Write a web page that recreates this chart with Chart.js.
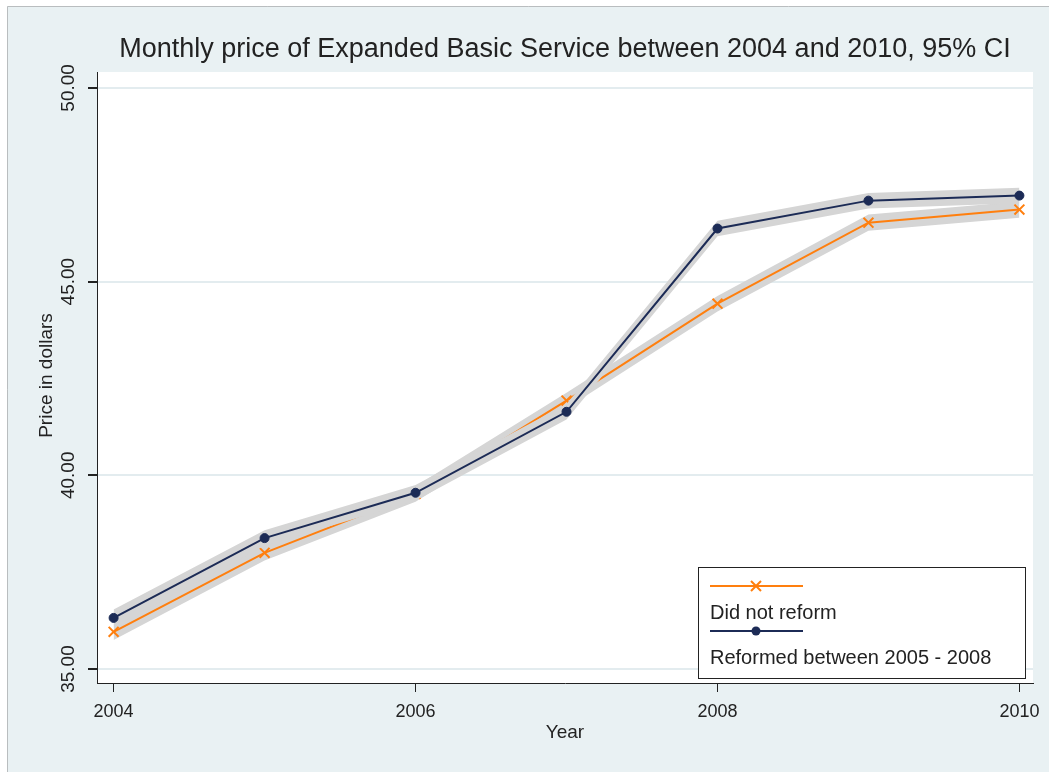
<!DOCTYPE html>
<html>
<head>
<meta charset="utf-8">
<script src="https://cdn.jsdelivr.net/npm/chart.js@4/dist/chart.umd.min.js"></script>
<style>
  html, body { margin: 0; padding: 0; background: #fff; }
  #wrap { width: 1049px; height: 772px; }
</style>
</head>
<body>
<div id="wrap"><canvas id="priceChart"></canvas></div>
<script>
/* ===== Data ===== */
const years = [2004, 2005, 2006, 2007, 2008, 2009, 2010];
const notReformed = [35.96, 38.00, 39.52, 41.93, 44.43, 46.52, 46.86];
const notReformedLow = [35.75, 37.80, 39.32, 41.73, 44.23, 46.31, 46.65];
const notReformedHigh = [36.17, 38.20, 39.72, 42.13, 44.63, 46.73, 47.07];
const reformed = [36.32, 38.38, 39.55, 41.64, 46.37, 47.09, 47.22];
const reformedLow = [36.10, 38.18, 39.35, 41.44, 46.17, 46.89, 47.02];
const reformedHigh = [36.54, 38.58, 39.75, 41.84, 46.57, 47.29, 47.42];
const yTicks = [35, 40, 45, 50];
const xTicks = [2004, 2006, 2008, 2010];
const legendLabels = ['Did not reform', 'Reformed between 2005 - 2008'];
const titleText = 'Monthly price of Expanded Basic Service between 2004 and 2010, 95% CI';

/* ===== Style ===== */
const orange = '#ff7f0e';
const navy = '#1c2b56';
const band = '#d5d5d5';
const bg = '#e9f1f3';
const gridColor = '#e3ecef';
const ink = '#222222';
const font = "'Liberation Sans', Arial, sans-serif";

const pts = (vals) => years.map((yr, i) => ({ x: yr, y: vals[i] }));

function bound(vals, fill, order) {
  return {
    data: pts(vals),
    borderWidth: 0,
    borderColor: 'transparent',
    backgroundColor: band,
    pointRadius: 0,
    fill,
    order
  };
}

function drawCross(ctx, x, y, r) {
  ctx.beginPath();
  ctx.moveTo(x - r, y - r); ctx.lineTo(x + r, y + r);
  ctx.moveTo(x - r, y + r); ctx.lineTo(x + r, y - r);
  ctx.stroke();
}

/* ===== Background / frame ===== */
const framePlugin = {
  id: 'frame',
  beforeDraw(chart) {
    const { ctx, width, height, chartArea: a } = chart;
    ctx.save();
    ctx.fillStyle = '#fff';
    ctx.fillRect(0, 0, width, height);
    ctx.fillStyle = bg;
    ctx.fillRect(7, 6, width - 7, height - 6);
    ctx.strokeStyle = '#b9bdbf';
    ctx.lineWidth = 1;
    ctx.beginPath();
    ctx.moveTo(7.5, height); ctx.lineTo(7.5, 6.5); ctx.lineTo(width, 6.5);
    ctx.stroke();
    ctx.fillStyle = '#fff';
    ctx.fillRect(a.left, a.top, a.right - a.left, a.bottom - a.top);
    ctx.restore();
  }
};

/* ===== Texts and legend ===== */
const textPlugin = {
  id: 'texts',
  afterDraw(chart) {
    const { ctx, chartArea: a, scales } = chart;
    const cx = (a.left + a.right) / 2;
    ctx.save();
    ctx.fillStyle = ink;
    ctx.textBaseline = 'middle';
    ctx.textAlign = 'center';

    // title
    ctx.font = `27px ${font}`;
    ctx.fillText(titleText, cx, 50);

    // x tick labels
    ctx.font = `18px ${font}`;
    scales.x.ticks.forEach(t => {
      ctx.fillText(String(t.value), scales.x.getPixelForValue(t.value), a.bottom + 29);
    });

    // y tick labels, rotated
    ctx.font = `19px ${font}`;
    scales.y.ticks.forEach(t => {
      ctx.save();
      ctx.translate(a.left - 28, scales.y.getPixelForValue(t.value));
      ctx.rotate(-Math.PI / 2);
      ctx.fillText(t.value.toFixed(2), 0, 0);
      ctx.restore();
    });

    // axis titles
    ctx.font = `19px ${font}`;
    ctx.fillText('Year', cx, a.bottom + 50);
    ctx.save();
    ctx.translate(a.left - 50, (a.top + a.bottom) / 2 - 2);
    ctx.rotate(-Math.PI / 2);
    ctx.fillText('Price in dollars', 0, 0);
    ctx.restore();

    // legend box
    const lx = a.right - 335, ly = a.bottom - 116;
    ctx.fillStyle = '#fff';
    ctx.fillRect(lx + 0.5, ly + 0.5, 327, 111);
    ctx.strokeStyle = ink;
    ctx.lineWidth = 1;
    ctx.strokeRect(lx + 0.5, ly + 0.5, 327, 111);

    ctx.lineWidth = 2;
    ctx.strokeStyle = orange;
    ctx.beginPath();
    ctx.moveTo(lx + 12, ly + 19); ctx.lineTo(lx + 105, ly + 19);
    ctx.stroke();
    drawCross(ctx, lx + 58, ly + 19, 5);

    ctx.strokeStyle = navy;
    ctx.beginPath();
    ctx.moveTo(lx + 12, ly + 64); ctx.lineTo(lx + 105, ly + 64);
    ctx.stroke();
    ctx.fillStyle = navy;
    ctx.beginPath();
    ctx.arc(lx + 58, ly + 64, 4.5, 0, Math.PI * 2);
    ctx.fill();

    ctx.fillStyle = ink;
    ctx.textAlign = 'left';
    ctx.font = `20px ${font}`;
    ctx.fillText(legendLabels[0], lx + 12, ly + 46);
    ctx.fillText(legendLabels[1], lx + 12, ly + 91);
    ctx.restore();
  }
};

/* ===== Chart ===== */
function initPriceChart() {
  const el = document.getElementById('priceChart');
  new Chart(el, {
    type: 'line',
    data: {
      datasets: [
        bound(notReformedHigh, '+1', 4),
        bound(notReformedLow, false, 4),
        {
          label: legendLabels[0],
          data: pts(notReformed),
          borderColor: orange,
          borderWidth: 2,
          pointStyle: 'crossRot',
          pointRadius: 7,
          pointBorderWidth: 2,
          pointBorderColor: orange,
          fill: false,
          order: 3
        },
        bound(reformedHigh, '+1', 2),
        bound(reformedLow, false, 2),
        {
          label: legendLabels[1],
          data: pts(reformed),
          borderColor: navy,
          borderWidth: 2,
          pointStyle: 'circle',
          pointRadius: 4.5,
          pointBackgroundColor: navy,
          pointBorderColor: navy,
          pointBorderWidth: 1,
          fill: false,
          order: 1
        }
      ]
    },
    options: {
      responsive: true,
      maintainAspectRatio: false,
      animation: false,
      layout: { padding: { left: 8, top: 72, right: 16, bottom: 0 } },
      scales: {
        x: {
          type: 'linear',
          min: 2003.89,
          max: 2010.09,
          afterBuildTicks: (s) => { s.ticks = xTicks.map(v => ({ value: v })); },
          afterFit: (s) => { s.height = 89; },
          ticks: { display: false },
          grid: { drawOnChartArea: false, drawTicks: true, tickLength: 9, tickColor: ink },
          border: { color: ink, width: 1 }
        },
        y: {
          min: 34.64,
          max: 50.41,
          afterBuildTicks: (s) => { s.ticks = yTicks.map(v => ({ value: v })); },
          afterFit: (s) => { s.width = 89; },
          ticks: { display: false },
          grid: { color: gridColor, lineWidth: 2, drawTicks: true, tickLength: 9, tickColor: ink },
          border: { color: ink, width: 1 }
        }
      },
      plugins: {
        legend: { display: false },
        title: { display: false },
        tooltip: { enabled: false },
        filler: { drawTime: 'beforeDatasetDraw' }
      }
    },
    plugins: [framePlugin, textPlugin]
  });
}

document.addEventListener('DOMContentLoaded', initPriceChart);
</script>
</body>
</html>
